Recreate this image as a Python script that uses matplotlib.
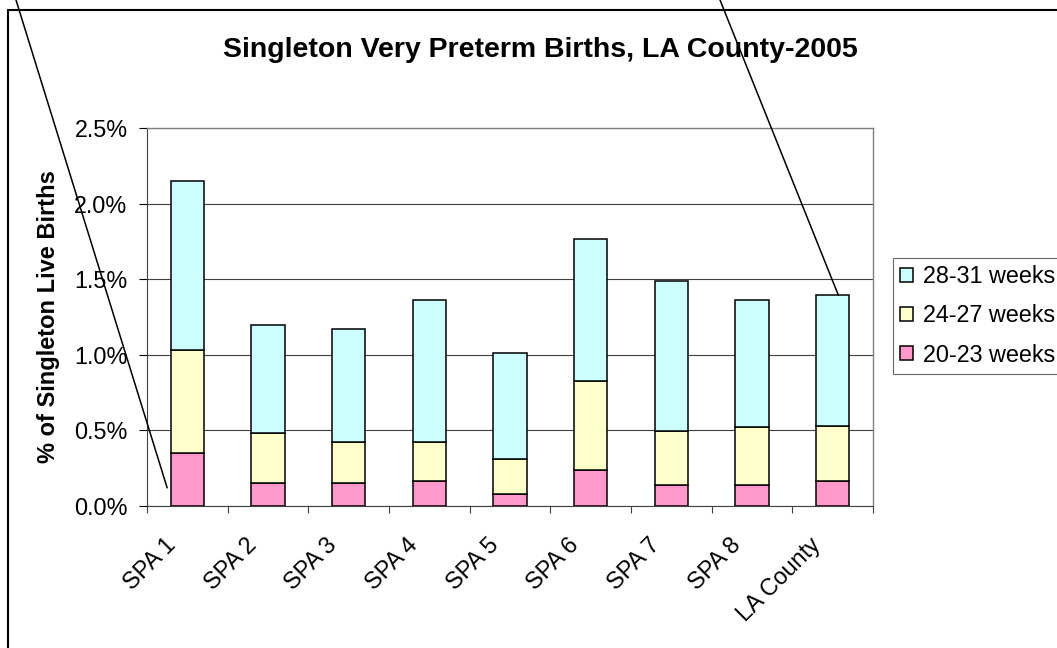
import matplotlib
matplotlib.use("Agg")
import matplotlib.pyplot as plt
from matplotlib.patches import Rectangle
from matplotlib.transforms import ScaledTranslation
import numpy as np

plt.rcParams['font.family'] = ['Liberation Sans', 'DejaVu Sans']

categories = ['SPA 1', 'SPA 2', 'SPA 3', 'SPA 4', 'SPA 5', 'SPA 6', 'SPA 7', 'SPA 8', 'LA County']
# percent of singleton live births, by gestational age
wk_20_23 = [0.35, 0.15, 0.15, 0.165, 0.08, 0.24, 0.14, 0.14, 0.165]
wk_24_27 = [0.68, 0.33, 0.27, 0.255, 0.23, 0.585, 0.355, 0.38, 0.365]
wk_28_31 = [1.12, 0.72, 0.75, 0.94, 0.70, 0.94, 0.995, 0.84, 0.865]
series_labels = ['20-23 weeks', '24-27 weeks', '28-31 weeks']
colors = ['#FF99CC', '#FFFFCC', '#CCFFFF']
y_ticks = [0.0, 0.5, 1.0, 1.5, 2.0, 2.5]

W, H = 1057, 648
fig = plt.figure(figsize=(W / 100, H / 100), dpi=100)
ax = fig.add_axes([147 / W, 1 - 506 / H, (873 - 147) / W, (506 - 128) / H])

x = np.arange(len(categories))
bottom = np.zeros(len(categories))
bars = []
for vals, lab, col in zip([wk_20_23, wk_24_27, wk_28_31], series_labels, colors):
    b = ax.bar(x, vals, width=0.41, bottom=bottom, color=col, edgecolor='black',
               linewidth=1.1, label=lab, zorder=3)
    bars.append(b)
    bottom += np.array(vals)

ax.set_xlim(-0.5, len(categories) - 0.5)
ax.set_ylim(0, 2.5)
ax.set_yticks(y_ticks)
ax.set_yticklabels([f'{v:.1f}%' for v in y_ticks], fontsize=16.8)
ax.set_xticks(np.arange(len(categories) + 1) - 0.5)
ax.set_xticklabels([])
ax.set_xticks(x, minor=True)
ax.set_xticklabels(categories, minor=True, rotation=45, ha='right', fontsize=16.8)
ax.tick_params(axis='x', which='minor', length=0, pad=20)
ax.tick_params(axis='x', which='major', length=5, width=0.8, color='#404040', direction='out')
ax.tick_params(axis='y', length=6, width=0.8, direction='out', pad=8)
shift = ScaledTranslation(-7 / 100, 0, fig.dpi_scale_trans)
for t in ax.get_xticklabels(minor=True):
    t.set_transform(t.get_transform() + shift)

ax.yaxis.grid(True, color='#404040', linewidth=0.8, zorder=0)
ax.set_axisbelow(True)
for s in ['top', 'right']:
    ax.spines[s].set_color('#808080')
    ax.spines[s].set_linewidth(1.0)
ax.spines['left'].set_color('#404040')
ax.spines['bottom'].set_color('#404040')

ax.set_ylabel('% of Singleton Live Births', fontsize=17, fontweight='bold', labelpad=10)

fig.text(540 / W, 1 - 50 / H, 'Singleton Very Preterm Births, LA County-2005',
         ha='center', va='center', fontsize=20.5, fontweight='bold')

# chart border
fig.add_artist(Rectangle((8 / W, -0.1), 1.2, 1.1 - 10 / H, transform=fig.transFigure,
                         fill=False, edgecolor='black', linewidth=1.5))

handles = [bars[2], bars[1], bars[0]]
leg = fig.legend(handles, [series_labels[2], series_labels[1], series_labels[0]],
                 loc='upper left', bbox_to_anchor=(893 / W, 1 - 258 / H),
                 fontsize=16.8, frameon=True, fancybox=False, edgecolor='#404040',
                 handlelength=0.55, handleheight=0.55, handletextpad=0.45,
                 labelspacing=0.7, borderpad=0.3, borderaxespad=0)
leg.get_frame().set_linewidth(0.8)

# callout lines
ax.annotate('', xy=(-0.25, 0.12), xycoords='data', xytext=(16, H), textcoords='figure pixels',
            arrowprops=dict(arrowstyle='-', color='black', lw=1.1, shrinkA=0, shrinkB=0),
            annotation_clip=False)
ax.annotate('', xy=(8.07, bottom[-1]), xycoords='data', xytext=(720, H), textcoords='figure pixels',
            arrowprops=dict(arrowstyle='-', color='black', lw=1.1, shrinkA=0, shrinkB=0),
            annotation_clip=False)

fig.savefig('out.png', dpi=100)
